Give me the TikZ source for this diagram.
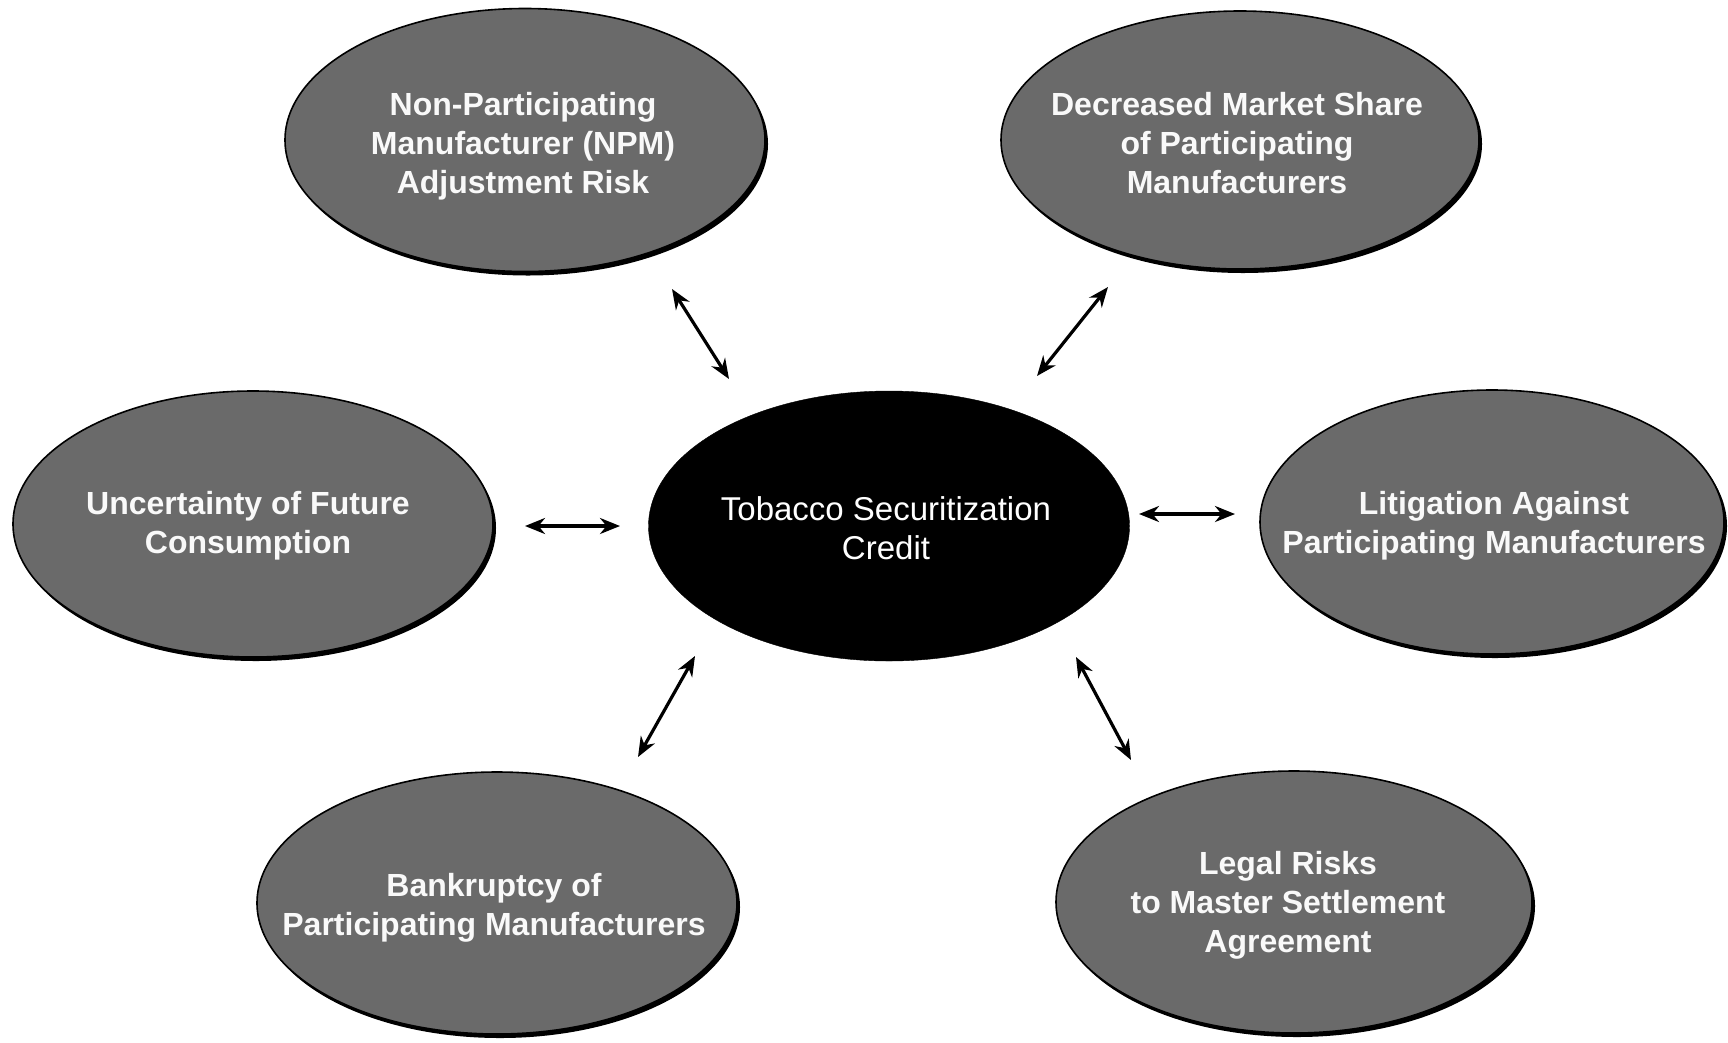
\documentclass[tikz,border=0pt]{standalone}
\usepackage{fontspec}
\setmainfont{Liberation Sans}
\usetikzlibrary{shapes.geometric,arrows.meta,shadows}
\definecolor{ovalgray}{RGB}{106,106,106}
\begin{document}
\begin{tikzpicture}[x=1pt,y=-1pt,
  risk/.style={ellipse, draw=black, line width=1.6pt, fill=ovalgray,
    inner sep=0pt, outer sep=0pt,
    drop shadow={shadow xshift=3pt, shadow yshift=-4pt, fill=black, opacity=1}},
  risktext/.style={inner sep=0pt, text=white!95!gray, align=center,
    font=\bfseries\fontsize{32}{39}\selectfont},
  core/.style={ellipse, draw=black, fill=black, inner sep=0pt, outer sep=0pt},
  coretext/.style={inner sep=0pt, text=white, align=center, font=\fontsize{33}{39}\selectfont},
  link/.style={{Stealth[length=20pt,width=16pt]}-{Stealth[length=20pt,width=16pt]},
    line width=3.2pt, black}]
\useasboundingbox (0,0) rectangle (1728,1042);
\fill[white] (0,0) rectangle (1728,1042);

\node[risk, minimum width=480pt, minimum height=263pt] (npm) at (525,140) {};
\node[risktext] (npmt) at (523,146) {Non-Participating\\Manufacturer (NPM)\\Adjustment Risk};
\node[risk, minimum width=478pt, minimum height=258pt] (dec) at (1240,140) {};
\node[risktext] (dect) at (1237,143) {Decreased Market Share\\of Participating\\Manufacturers};
\node[risk, minimum width=480pt, minimum height=266pt] (unc) at (253,524) {};
\node[risktext] (unct) at (248,526) {Uncertainty of Future\\Consumption};
\node[risk, minimum width=464pt, minimum height=264pt] (lit) at (1492,522) {};
\node[risktext] (litt) at (1494,526) {Litigation Against\\Participating Manufacturers};
\node[risk, minimum width=480pt, minimum height=262pt] (bank) at (497,903) {};
\node[risktext] (bankt) at (494,908) {Bankruptcy of\\Participating Manufacturers};
\node[risk, minimum width=476pt, minimum height=262pt] (legal) at (1294,902) {};
\node[risktext] (legalt) at (1288,905) {Legal Risks\\to Master Settlement\\Agreement};
\node[core, minimum width=481pt, minimum height=270pt] (core) at (889,526) {};
\node[coretext] (coret) at (886,528) {Tobacco Securitization\\Credit};

\coordinate (n1) at (672,289);  \coordinate (n2) at (729,379);
\coordinate (d1) at (1108,287); \coordinate (d2) at (1037,376);
\coordinate (u1) at (525,526);  \coordinate (u2) at (620,526);
\coordinate (l1) at (1139,514); \coordinate (l2) at (1235,514);
\coordinate (b1) at (695,656);  \coordinate (b2) at (638,757);
\coordinate (g1) at (1076,657); \coordinate (g2) at (1131,760);

\draw[link] (n1) -- (n2);
\draw[link] (d1) -- (d2);
\draw[link] (u1) -- (u2);
\draw[link] (l1) -- (l2);
\draw[link] (b1) -- (b2);
\draw[link] (g1) -- (g2);
\end{tikzpicture}
\end{document}
